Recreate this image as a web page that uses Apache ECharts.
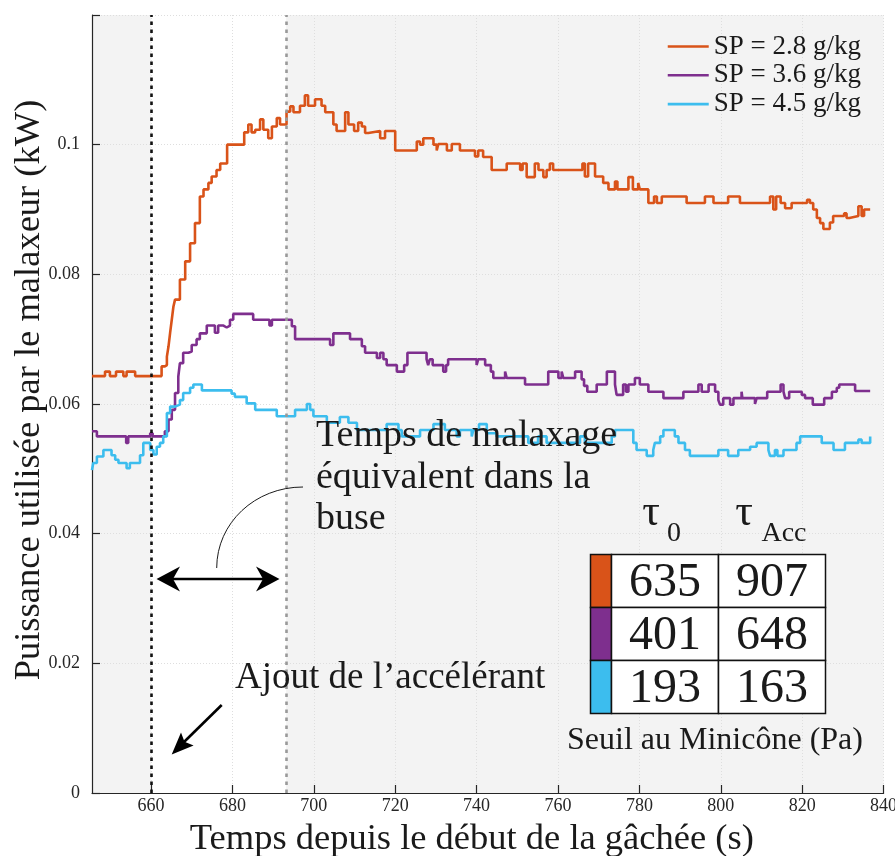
<!DOCTYPE html>
<html>
<head>
<meta charset="utf-8">
<script src="https://cdn.jsdelivr.net/npm/echarts@6/dist/echarts.min.js"></script>
<style>html,body{margin:0;padding:0;background:#fff}#c{width:895px;height:856px}</style>
</head>
<body>
<div id="c"></div>
<script>
// ---- data (time in s, power in kW) ----
const xTicks = [660, 680, 700, 720, 740, 760, 780, 800, 820, 840];
const legendNames = ['SP = 2.8 g/kg', 'SP = 3.6 g/kg', 'SP = 4.5 g/kg'];
const injectionTime = 660;      // Ajout de l'accélérant
const nozzleTime = 693.2;       // fin du temps de malaxage équivalent

const t28 = [645.5,648.7,649.9,651.4,653.2,654.0,656.1,662.6,663.4,663.9,664.3,664.7,665.1,665.5,665.9,667.1,668.4,669.6,670.8,672.0,672.9,674.1,674.9,676.1,677.0,678.7,682.9,683.9,684.7,685.6,686.8,687.6,688.8,689.7,690.9,691.7,693.3,694.2,695.0,696.6,697.8,698.6,700.3,701.9,702.8,704.8,705.6,707.7,708.5,709.9,710.9,711.8,712.6,713.4,716.3,717.5,720.0,725.3,726.1,726.9,729.4,730.2,730.6,732.7,733.9,735.9,739.6,740.4,741.6,743.7,747.4,750.7,751.3,752.3,754.3,755.2,756.4,757.2,758.0,758.8,766.0,766.6,767.4,769.1,771.1,772.4,774.0,774.6,777.3,778.4,779.7,780.1,782.2,783.6,784.3,785.5,791.6,796.1,798.2,801.8,804.7,812.1,812.9,813.6,814.7,815.8,817.4,821.2,821.9,822.7,823.6,824.4,825.2,826.8,827.6,830.3,830.9,831.6,833.8,834.6,835.2,836.7];
const p28 = [0.0643,0.065,0.0643,0.065,0.0643,0.065,0.0643,0.0658,0.066,0.0673,0.0689,0.071,0.073,0.075,0.0761,0.0792,0.082,0.0848,0.0879,0.092,0.0931,0.0941,0.0951,0.0961,0.0971,0.1000,0.1019,0.1031,0.1019,0.1023,0.1039,0.1023,0.1010,0.1028,0.1041,0.1031,0.1051,0.1059,0.1050,0.106,0.1076,0.106,0.1070,0.106,0.1050,0.1031,0.1021,0.1050,0.1031,0.1021,0.1034,0.1028,0.1018,0.1021,0.1010,0.1021,0.0991,0.1005,0.1000,0.1010,0.1000,0.0991,0.1001,0.0991,0.1001,0.0991,0.0982,0.0991,0.0981,0.0961,0.0971,0.0961,0.0971,0.095,0.0971,0.0961,0.095,0.0961,0.0971,0.0961,0.0971,0.0951,0.0971,0.0951,0.0941,0.0931,0.0943,0.0931,0.0950,0.0931,0.0941,0.0931,0.0910,0.092,0.091,0.0920,0.0910,0.0920,0.0910,0.0920,0.0910,0.0920,0.0900,0.0920,0.0910,0.0902,0.0910,0.0915,0.0910,0.0900,0.0887,0.0879,0.0870,0.0880,0.0890,0.0894,0.0887,0.0890,0.0905,0.0890,0.0900,0.0900];

const t36 = [645.5,646.7,653.9,654.4,659.8,660.4,663.4,664.3,665.1,665.9,666.7,667.1,667.9,669.2,670.0,671.2,672.0,673.7,675.7,676.5,677.8,678.6,679.4,680.2,685.1,689.1,689.7,694.6,695.4,704.0,704.8,708.9,711.8,712.6,715.5,716.3,717.1,717.9,720.4,722.2,723.0,727.7,728.1,728.5,729.2,731.8,732.5,733.0,740.0,740.4,742.1,743.5,744.1,747.0,747.4,751.9,757.6,760.1,760.9,761.3,764.2,765.8,766.4,767.2,769.5,772.0,774.0,774.4,776.0,776.7,777.3,778.9,780.1,782.2,785.9,790.8,794.5,795.3,797.0,798.6,799.4,799.8,800.6,802.3,803.1,805.1,805.3,808.4,808.8,811.4,814.7,815.4,815.8,816.8,819.9,820.7,822.6,825.4,827.3,828.5,829.1,833.0,836.7];
const p36 = [0.0558,0.055,0.054,0.055,0.0555,0.055,0.0558,0.0576,0.0591,0.0617,0.0642,0.0663,0.0679,0.0681,0.0691,0.0700,0.0709,0.0721,0.0710,0.0721,0.0718,0.0721,0.0730,0.0739,0.0730,0.0721,0.0730,0.0720,0.0700,0.0691,0.0709,0.0700,0.0689,0.0679,0.0671,0.0679,0.0669,0.0660,0.0650,0.0660,0.0679,0.0669,0.066,0.0669,0.066,0.065,0.066,0.0669,0.066,0.0669,0.066,0.065,0.064,0.065,0.064,0.063,0.065,0.064,0.065,0.064,0.065,0.0638,0.0628,0.0619,0.063,0.065,0.063,0.0614,0.063,0.0619,0.063,0.064,0.063,0.0619,0.0609,0.0619,0.063,0.0619,0.063,0.0619,0.0606,0.0599,0.0609,0.0599,0.0609,0.0619,0.0609,0.060,0.0609,0.0619,0.063,0.0619,0.0609,0.0619,0.0614,0.0609,0.0599,0.0609,0.0619,0.0625,0.063,0.062,0.062];

const t45 = [645.5,645.8,646.7,648.3,650.3,651.2,652.0,654.0,654.8,657.3,658.1,659.8,660.6,661.4,662.2,663.0,663.9,664.7,665.9,667.1,667.9,669.6,670.4,672.5,679.8,680.6,683.5,685.6,690.9,695.4,698.3,699.1,699.9,703.2,706.4,708.5,710.6,717.9,720.8,721.6,726.1,729.4,732.2,735.1,735.9,738.8,739.2,740.6,742.5,744.9,752.7,755.1,757.2,765.4,766.6,773.2,774.0,778.5,779.3,781.8,783.4,783.8,785.1,785.9,788.7,789.6,791.2,792.4,799.4,801.8,804.3,807.2,808.8,811.7,812.1,813.3,813.9,815.4,818.6,819.5,824.8,827.7,830.5,833.8,834.6,836.7];
const p45 = [0.0498,0.0509,0.0519,0.0529,0.0521,0.0514,0.0509,0.0501,0.0509,0.0521,0.054,0.0529,0.0522,0.0534,0.054,0.055,0.0586,0.0596,0.0599,0.0606,0.0617,0.0625,0.063,0.0621,0.0616,0.0611,0.0601,0.0591,0.0581,0.0591,0.0600,0.0591,0.0581,0.0571,0.058,0.0571,0.056,0.0569,0.056,0.055,0.056,0.0569,0.056,0.055,0.056,0.055,0.056,0.0569,0.0555,0.055,0.054,0.055,0.054,0.055,0.054,0.055,0.056,0.054,0.0529,0.052,0.0529,0.054,0.055,0.056,0.055,0.054,0.0529,0.052,0.0529,0.052,0.0529,0.0534,0.054,0.0529,0.052,0.0529,0.052,0.0529,0.054,0.055,0.054,0.0529,0.054,0.0545,0.054,0.055];

// table: seuil au minicône (Pa)
const tau0 = [635, 401, 193];
const tauAcc = [907, 648, 163];

const colors = ['#D95319', '#7E2F8E', '#3CBDEE'];
const FONT = 'Liberation Serif';

function zip(t, v) { return t.map((x, i) => [x, v[i]]); }
const seriesData = [zip(t28, p28), zip(t36, p36), zip(t45, p45)];

const chart = echarts.init(document.getElementById('c'), null, { renderer: 'canvas' });

const series = seriesData.map((d, i) => ({
  name: legendNames[i],
  type: 'line',
  step: 'end',
  data: d,
  symbol: 'none',
  showSymbol: false,
  lineStyle: { color: colors[i], width: 2.6 },
  itemStyle: { color: colors[i] },
  z: 3
}));

series[0].markLine = {
  silent: true,
  symbol: 'none',
  label: { show: false },
  data: [
    { xAxis: injectionTime, lineStyle: { color: '#111', width: 2.6, type: [3.5, 4.5] } },
    { xAxis: nozzleTime, lineStyle: { color: '#999', width: 2.6, type: [3.5, 4.5] } }
  ]
};

// white band between the two events, drawn through the axes
series.push({
  type: 'custom',
  silent: true,
  z: 1,
  data: [[injectionTime, nozzleTime]],
  renderItem: function (params, api) {
    const p0 = api.coord([api.value(0), 0.12]);
    const p1 = api.coord([api.value(1), 0]);
    return { type: 'rect', shape: { x: p0[0], y: p0[1], width: p1[0] - p0[0], height: p1[1] - p0[1] },
      style: { fill: '#ffffff' } };
  }
});

const G = [];
// table
const tx0 = 590.5, tx1 = 611.5, tx2 = 718.5, tx3 = 825.5;
const ty = [554.5, 607.5, 660.5, 713.5];
for (let r = 0; r < 3; r++) {
  G.push({ type: 'rect', shape: { x: tx0, y: ty[r], width: tx1 - tx0, height: ty[r + 1] - ty[r] },
    style: { fill: colors[r], stroke: '#111', lineWidth: 1.5 }, z: 10 });
  G.push({ type: 'rect', shape: { x: tx1, y: ty[r], width: tx2 - tx1, height: ty[r + 1] - ty[r] },
    style: { fill: '#fff', stroke: '#111', lineWidth: 1.5 }, z: 10 });
  G.push({ type: 'rect', shape: { x: tx2, y: ty[r], width: tx3 - tx2, height: ty[r + 1] - ty[r] },
    style: { fill: '#fff', stroke: '#111', lineWidth: 1.5 }, z: 10 });
  G.push({ type: 'text', x: (tx1 + tx2) / 2, y: (ty[r] + ty[r + 1]) / 2 + 2, z: 11,
    style: { text: String(tau0[r]), font: '48px ' + FONT, fill: '#1a1a1a', align: 'center', verticalAlign: 'middle' } });
  G.push({ type: 'text', x: (tx2 + tx3) / 2, y: (ty[r] + ty[r + 1]) / 2 + 2, z: 11,
    style: { text: String(tauAcc[r]), font: '48px ' + FONT, fill: '#1a1a1a', align: 'center', verticalAlign: 'middle' } });
}
// headers
G.push({ type: 'text', x: 651, y: 513, z: 11, style: { text: 'τ', font: '44px ' + FONT, fill: '#1a1a1a', align: 'center', verticalAlign: 'middle' } });
G.push({ type: 'text', x: 674, y: 534, z: 11, style: { text: '0', font: '28px ' + FONT, fill: '#1a1a1a', align: 'center', verticalAlign: 'middle' } });
G.push({ type: 'text', x: 744, y: 513, z: 11, style: { text: 'τ', font: '44px ' + FONT, fill: '#1a1a1a', align: 'center', verticalAlign: 'middle' } });
G.push({ type: 'text', x: 784, y: 534, z: 11, style: { text: 'Acc', font: '28px ' + FONT, fill: '#1a1a1a', align: 'center', verticalAlign: 'middle' } });
G.push({ type: 'text', x: 715, y: 741, z: 11, style: { text: 'Seuil au Minicône (Pa)', font: '32px ' + FONT, fill: '#1a1a1a', align: 'center', verticalAlign: 'middle' } });

// annotation: temps de malaxage
G.push({ type: 'text', x: 316, y: 478, z: 11, style: { text: 'Temps de malaxage\néquivalent dans la\nbuse', font: '38px ' + FONT, lineHeight: 41.5, fill: '#1a1a1a', align: 'left', verticalAlign: 'middle' } });
G.push({ type: 'bezierCurve', z: 11, shape: { x1: 216.7, y1: 568, cpx1: 216.7, cpy1: 523, cpx2: 255, cpy2: 487, x2: 303, y2: 487 }, style: { stroke: '#1a1a1a', lineWidth: 1, fill: null } });
G.push({ type: 'line', z: 11, shape: { x1: 172, y1: 579, x2: 264, y2: 579 }, style: { stroke: '#000', lineWidth: 2.6 } });
G.push({ type: 'polygon', z: 11, shape: { points: [[156.5, 579], [180, 566.5], [173, 579], [180, 591.5]] }, style: { fill: '#000' } });
G.push({ type: 'polygon', z: 11, shape: { points: [[279.5, 579], [256, 566.5], [263, 579], [256, 591.5]] }, style: { fill: '#000' } });

// annotation: ajout de l'accélérant
G.push({ type: 'text', x: 235, y: 678, z: 11, style: { text: 'Ajout de l’accélérant', font: '37px ' + FONT, fill: '#1a1a1a', align: 'left', verticalAlign: 'middle' } });
G.push({ type: 'line', z: 11, shape: { x1: 221.7, y1: 705, x2: 184, y2: 742 }, style: { stroke: '#000', lineWidth: 2.6 } });
G.push({ type: 'polygon', z: 11, shape: { points: [[171.7, 754.5], [181, 732.6], [184.5, 741.8], [193.6, 745.4]] }, style: { fill: '#000' } });

chart.setOption({
  animation: false,
  backgroundColor: '#ffffff',
  textStyle: { fontFamily: FONT },
  grid: { left: 92, right: 11.4, top: 15, bottom: 63, show: true, backgroundColor: '#f3f3f3', borderWidth: 0,
    containLabel: false, outerBoundsMode: 'none' },
  legend: {
    data: legendNames,
    orient: 'vertical',
    right: 29, top: 28,
    icon: 'rect',
    itemWidth: 41, itemHeight: 2.6, itemGap: 1.8,
    textStyle: { fontFamily: FONT, fontSize: 27, color: '#1a1a1a', lineHeight: 24 },
    inactiveColor: '#ccc'
  },
  xAxis: {
    type: 'value', min: 645.5, max: 840, z: 2,
    name: 'Temps depuis le début de la gâchée (s)',
    nameLocation: 'middle', nameGap: 28, nameMoveOverlap: false,
    nameTextStyle: { fontFamily: FONT, fontSize: 36.5, color: '#1a1a1a', verticalAlign: 'top', padding: [0, 32, 0, 0] },
    axisLine: { show: true, onZero: false, lineStyle: { color: '#262626', width: 1.2 } },
    axisTick: { show: true, inside: true, length: 8, customValues: xTicks, lineStyle: { color: '#262626', width: 1.2 } },
    axisLabel: { customValues: xTicks, fontFamily: FONT, fontSize: 18, color: '#262626', margin: 4 },
    splitLine: { show: true, lineStyle: { color: '#dedede', width: 1, type: [1, 2] } }
  },
  yAxis: {
    type: 'value', min: 0, max: 0.12, interval: 0.02, z: 2,
    name: 'Puissance utilisée par le malaxeur (kW)',
    nameLocation: 'middle', nameGap: 44, nameRotate: 90, nameMoveOverlap: false,
    nameTextStyle: { fontFamily: FONT, fontSize: 36.5, color: '#1a1a1a', padding: [0, 0, 0, 28] },
    axisLine: { show: true, lineStyle: { color: '#262626', width: 1.2 } },
    axisTick: { show: true, inside: true, length: 8, lineStyle: { color: '#262626', width: 1.2 } },
    axisLabel: { fontFamily: FONT, fontSize: 18, color: '#262626', margin: 12,
      formatter: v => (v > 0.11 ? '' : String(+v.toFixed(2))) },
    splitLine: { show: true, lineStyle: { color: '#dedede', width: 1, type: [1, 2] } }
  },
  series: series,
  graphic: G
});
</script>
</body>
</html>
